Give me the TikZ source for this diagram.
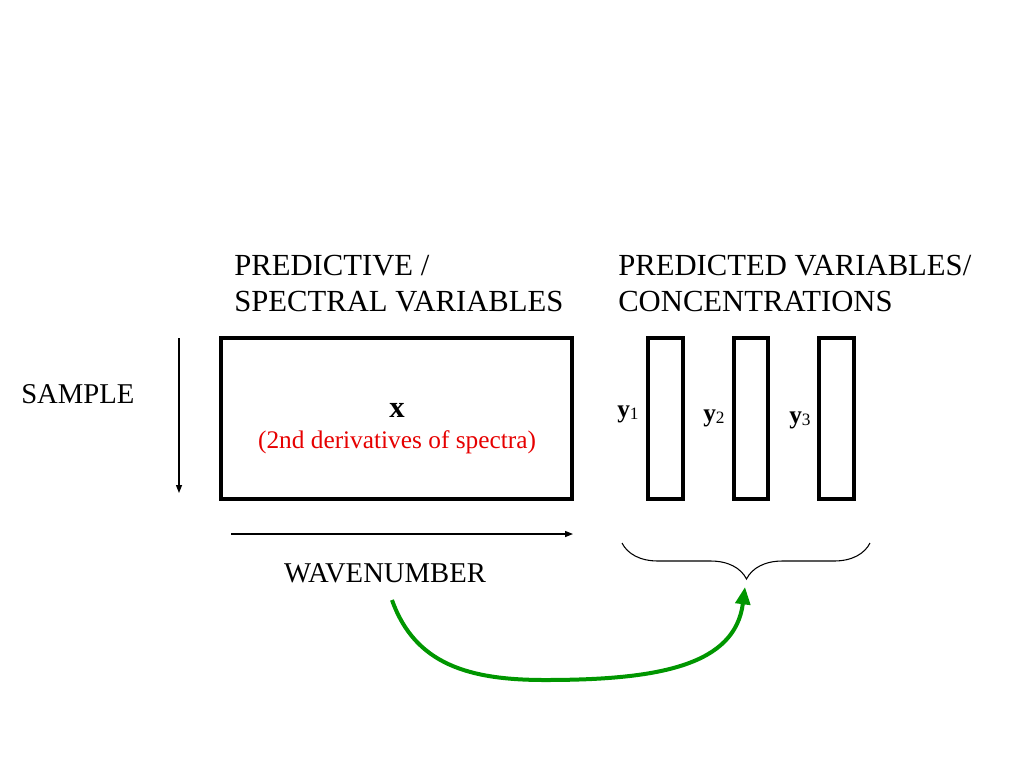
\documentclass[tikz,border=0pt]{standalone}
\usepackage{fontspec}
\setmainfont{Liberation Serif}
\usetikzlibrary{arrows.meta,decorations.pathreplacing}

\begin{document}
\begin{tikzpicture}[x=0.75pt,y=0.75pt,yscale=-1,xscale=1,
	lbl/.style={inner sep=0.75pt,font=\rmfamily\fontsize{23}{27.6}\selectfont},
	axlbl/.style={inner sep=0.75pt,font=\rmfamily\fontsize{21.5}{26}\selectfont},
	ylbl/.style={inner sep=0.75pt,font=\rmfamily\fontsize{19}{22}\selectfont},
	thin arrow/.style={line width=1pt,-{Triangle[length=6pt,width=4.5pt]}}]
	\useasboundingbox (0,0) rectangle (1024,768);
	
	%Shape: Rectangle [id:xmatrix] 
	\draw  [line width=3pt] (221,338) rectangle (572,499) ;
	%Shape: Rectangle [id:ycol1] 
	\draw  [line width=2.4pt] (648,338) rectangle (683,499) ;
	%Shape: Rectangle [id:ycol2] 
	\draw  [line width=2.4pt] (734,338) rectangle (768,499) ;
	%Shape: Rectangle [id:ycol3] 
	\draw  [line width=2.4pt] (819,338) rectangle (854,499) ;
	
	%Straight Lines [id:samplearrow] 
	\coordinate (sampletop) at (179,338);
	\coordinate (samplebot) at (179,493);
	\draw  [thin arrow]  (sampletop) -- (samplebot) ;
	%Straight Lines [id:wavearrow] 
	\coordinate (waveleft) at (231,534);
	\coordinate (waveright) at (573,534);
	\draw  [thin arrow]  (waveleft) -- (waveright) ;
	
	%Shape: Brace [id:ybrace] 
	\coordinate (braceleft) at (622,543);
	\coordinate (braceright) at (870,543);
	\coordinate (bracetip) at (745,580);
	\draw  [line width=0.8pt,decorate,decoration={brace,amplitude=27pt,aspect=0.498}]  (braceright) -- (braceleft) ;
	
	% Text Node
	\draw (233,275) node [anchor=base west][lbl] (predtitle) {PREDICTIVE /};
	% Text Node
	\draw (233,311) node [anchor=base west][lbl] (spectitle) {SPECTRAL VARIABLES};
	% Text Node
	\draw (617,275) node [anchor=base west][lbl] (predvtitle) {PREDICTED VARIABLES/};
	% Text Node
	\draw (617,311) node [anchor=base west][lbl] (conctitle) {CONCENTRATIONS};
	% Text Node
	\draw (20,403) node [anchor=base west][axlbl] (sample) {SAMPLE};
	% Text Node
	\draw (385,582) node [anchor=base][axlbl] (wavenumber) {WAVENUMBER};
	% Text Node
	\draw (397,417) node [anchor=base][lbl] (xlabel) {\textbf{x}};
	% Text Node
	\draw (397,448) node [anchor=base][inner sep=0.75pt,font=\rmfamily\fontsize{19}{22}\selectfont,text={rgb,255:red,230;green,0;blue,0}] (xnote) {(2nd derivatives of spectra)};
	% Text Node
	\draw (616,417) node [anchor=base west][ylbl] (y1) {\textbf{y}\raisebox{-0.25ex}{\fontsize{13}{13}\selectfont 1}};
	% Text Node
	\draw (702,421) node [anchor=base west][ylbl] (y2) {\textbf{y}\raisebox{-0.25ex}{\fontsize{13}{13}\selectfont 2}};
	% Text Node
	\draw (788,423) node [anchor=base west][ylbl] (y3) {\textbf{y}\raisebox{-0.25ex}{\fontsize{13}{13}\selectfont 3}};
	
	%Curve Lines [id:greenarrow] 
	\coordinate (greenstart) at (392,600);
	\coordinate (greenend) at (745,587);
	\draw  [color={rgb,255:red,0;green,150;blue,0},line width=3pt,-{Triangle[length=13pt,width=11pt]}]  (greenstart) .. controls (415,665) and (470,680) .. (545,680) .. controls (660,680) and (735,665) .. (greenend) ;
	
\end{tikzpicture}
\end{document}
